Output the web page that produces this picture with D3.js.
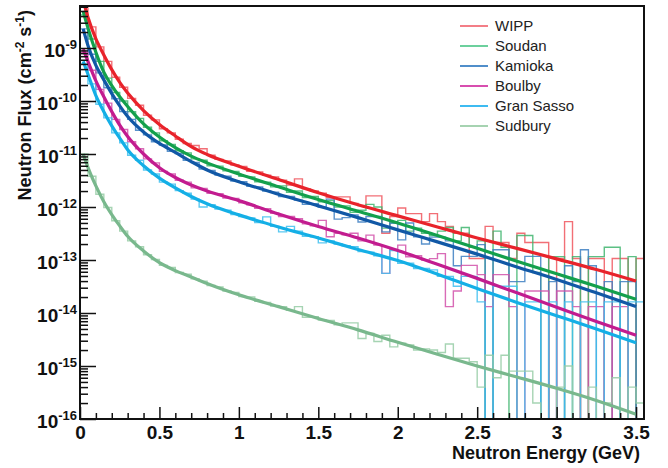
<!DOCTYPE html>
<html lang="en">
<head>
<meta charset="UTF-8">
<title>Neutron flux vs neutron energy</title>
<script src="https://d3js.org/d3.v7.min.js"></script>
<style>
  body { margin: 0; background: #fff; }
  text { font-family: "Liberation Sans", Arial, Helvetica, sans-serif; }
  .hist { fill: none; stroke-width: 1.4; stroke-opacity: 0.85; }
  .fit { fill: none; stroke-width: 3.2; }
  .tick line { stroke: #111; stroke-width: 1.5; }
</style>
</head>
<body>
<svg width="668" height="468"></svg>

<script>
    const siteNames = ["WIPP", "Soudan", "Kamioka", "Boulby", "Gran Sasso", "Sudbury"];

    // histogram binning: 71 bins of 0.05 GeV starting at 0
    const binWidth = 0.05;

    // energies (GeV) where the fitted curves were read
    const fitEnergy = [0.02, 0.05, 0.1, 0.15, 0.2, 0.25, 0.3, 0.4, 0.5, 0.6, 0.7, 0.8,
                       1.0, 1.25, 1.5, 1.75, 2.0, 2.25, 2.5, 2.75, 3.0, 3.25, 3.5];

    // fitted flux, cm^-2 s^-1
    const wippFit     = [7.9e-9, 3.8e-9, 1.48e-9, 7.4e-10, 3.9e-10, 2.24e-10, 1.41e-10, 6.6e-11, 3.6e-11, 2.19e-11, 1.38e-11, 9.8e-12,
                         5.9e-12, 3.3e-12, 1.86e-12, 1.10e-12, 6.8e-13, 4.2e-13, 2.6e-13, 1.66e-13, 1.05e-13, 6.6e-14, 4.0e-14];
    const soudanFit   = [5.0e-9, 2.4e-9, 8.3e-10, 3.5e-10, 1.95e-10, 1.20e-10, 7.9e-11, 3.7e-11, 2.09e-11, 1.32e-11, 9.1e-12, 6.8e-12,
                         4.2e-12, 2.4e-12, 1.38e-12, 8.3e-13, 5.0e-13, 2.9e-13, 1.66e-13, 9.5e-14, 5.5e-14, 3.2e-14, 1.82e-14];
    const kamiokaFit  = [2.3e-9, 1.12e-9, 4.7e-10, 2.5e-10, 1.38e-10, 8.1e-11, 5.1e-11, 2.6e-11, 1.58e-11, 1.07e-11, 7.2e-12, 5.0e-12,
                         3.0e-12, 1.74e-12, 1.05e-12, 6.3e-13, 3.7e-13, 2.2e-13, 1.29e-13, 7.4e-14, 4.3e-14, 2.4e-14, 1.32e-14];
    const boulbyFit   = [9.5e-10, 5.6e-10, 2.4e-10, 1.20e-10, 6.3e-11, 3.5e-11, 2.14e-11, 1.0e-11, 5.5e-12, 3.6e-12, 2.6e-12, 2.0e-12,
                         1.32e-12, 7.4e-13, 4.3e-13, 2.6e-13, 1.51e-13, 8.3e-14, 4.5e-14, 2.4e-14, 1.29e-14, 6.9e-15, 3.8e-15];
    const granSassoFit = [5.6e-10, 3.2e-10, 1.26e-10, 6.3e-11, 3.4e-11, 2.0e-11, 1.20e-11, 6.0e-12, 3.5e-12, 2.3e-12, 1.58e-12, 1.15e-12,
                         7.1e-13, 4.2e-13, 2.6e-13, 1.58e-13, 9.8e-14, 5.4e-14, 2.9e-14, 1.58e-14, 8.9e-15, 5.0e-15, 2.75e-15];
    const sudburyFit  = [1.0e-11, 5.6e-12, 2.5e-12, 1.26e-12, 7.2e-13, 4.4e-13, 2.8e-13, 1.48e-13, 8.9e-14, 6.3e-14, 4.8e-14, 3.6e-14,
                         2.2e-14, 1.32e-14, 7.9e-15, 4.8e-15, 2.8e-15, 1.66e-15, 1.0e-15, 6.2e-16, 3.8e-16, 2.24e-16, 1.23e-16];

    // simulated flux per 0.05 GeV bin (0 = empty bin)
    const wippHist = [
        7.9e-9, 2.5e-9, 1.05e-9, 5.6e-10, 2.8e-10, 1.82e-10, 1.12e-10, 8.3e-11, 5.4e-11, 4.4e-11,
        3.0e-11, 2.5e-11, 1.9e-11, 1.58e-11, 1.45e-11, 1.26e-11, 9.5e-12, 7.9e-12, 7.4e-12, 6.2e-12,
        5.8e-12, 4.7e-12, 4.6e-12, 4.0e-12, 3.7e-12, 3.2e-12, 2.6e-12, 3.4e-12, 2.2e-12, 2.0e-12,
        1.82e-12, 1.51e-12, 1.55e-12, 1.55e-12, 1.17e-12, 1.07e-12, 1.62e-12, 1.62e-12, 3.2e-13, 6.6e-13,
        9.6e-13, 7.5e-13, 7.5e-13, 5.3e-13, 7.5e-13, 5.3e-13, 4.3e-13, 3.2e-13, 3.2e-13, 1.07e-13,
        1.07e-13, 4.3e-13, 2.14e-13, 2.14e-13, 1.07e-13, 3.2e-13, 2.14e-13, 2.14e-13, 2.14e-13, 0,
        1.07e-13, 5.3e-13, 1.07e-13, 0, 1.07e-13, 1.07e-13, 0, 1.07e-13, 1.07e-13, 0,
        1.07e-13];
    const soudanHist = [
        4.2e-9, 1.48e-9, 5.6e-10, 2.7e-10, 1.45e-10, 1.0e-10, 6.3e-11, 4.7e-11, 3.2e-11, 2.5e-11,
        1.78e-11, 1.51e-11, 1.15e-11, 1.05e-11, 8.1e-12, 7.6e-12, 6.0e-12, 5.9e-12, 4.8e-12, 4.7e-12,
        3.8e-12, 3.7e-12, 3.0e-12, 2.95e-12, 2.4e-12, 2.5e-12, 1.9e-12, 2.0e-12, 1.51e-12, 1.58e-12,
        1.26e-12, 1.32e-12, 1.0e-12, 1.05e-12, 7.9e-13, 8.7e-13, 1.12e-12, 1.0e-12, 4.0e-13, 5.0e-13,
        5.6e-13, 3.5e-13, 4.0e-13, 3.2e-13, 2.9e-13, 3.5e-13, 4.1e-13, 2.3e-13, 4.1e-13, 1.74e-13,
        2.3e-13, 0, 3.5e-13, 1.74e-13, 0, 2.9e-13, 2.9e-13, 5.8e-14, 0, 1.16e-13,
        1.16e-13, 0, 1.16e-13, 0, 1.16e-13, 1.16e-13, 1.74e-13, 1.74e-13, 0, 1.16e-13,
        0];
    const kamiokaHist = [
        2.3e-9, 7.6e-10, 3.4e-10, 1.78e-10, 1.10e-10, 6.3e-11, 4.5e-11, 2.8e-11, 2.3e-11, 1.70e-11,
        1.48e-11, 1.12e-11, 1.02e-11, 7.6e-12, 6.9e-12, 5.2e-12, 4.9e-12, 4.0e-12, 3.8e-12, 3.1e-12,
        3.0e-12, 2.45e-12, 2.4e-12, 2.0e-12, 1.91e-12, 1.58e-12, 1.58e-12, 1.35e-12, 1.12e-12, 1.15e-12,
        1.0e-12, 1.41e-12, 5.9e-13, 6.3e-13, 7.1e-13, 5.2e-13, 6.6e-13, 6.6e-13, 3.4e-13, 5.0e-13,
        2.4e-13, 5.0e-13, 2.75e-13, 2.0e-13, 2.7e-13, 2.7e-13, 2.3e-13, 7.8e-14, 1.17e-13, 1.17e-13,
        1.95e-13, 0, 1.56e-13, 1.56e-13, 3.9e-14, 3.9e-14, 1.17e-13, 1.17e-13, 0, 3.9e-14,
        0, 7.8e-14, 3.9e-14, 1.56e-13, 7.8e-14, 0, 3.9e-14, 0, 3.9e-14, 3.9e-14,
        0];
    const boulbyHist = [
        8.3e-10, 3.8e-10, 1.66e-10, 9.1e-11, 4.5e-11, 2.9e-11, 1.70e-11, 1.26e-11, 8.1e-12, 6.8e-12,
        4.7e-12, 4.2e-12, 3.2e-12, 2.95e-12, 2.3e-12, 2.24e-12, 1.82e-12, 1.78e-12, 1.48e-12, 1.45e-12,
        1.20e-12, 1.10e-12, 9.5e-13, 9.3e-13, 7.6e-13, 6.6e-13, 6.6e-13, 6.0e-13, 4.8e-13, 4.4e-13,
        5.6e-13, 2.75e-13, 3.2e-13, 3.0e-13, 3.2e-13, 2.3e-13, 2.95e-13, 1.91e-13, 5.6e-14, 1.58e-13,
        1.91e-13, 1.15e-13, 1.20e-13, 1.0e-13, 1.06e-13, 1.32e-13, 1.32e-14, 2.6e-14, 7.9e-14, 7.9e-14,
        5.3e-14, 1.32e-14, 5.3e-14, 5.3e-14, 1.32e-14, 0, 2.6e-14, 2.6e-14, 2.6e-14, 0,
        2.6e-14, 2.6e-14, 1.32e-14, 0, 1.32e-14, 1.32e-14, 0, 1.32e-14, 1.32e-14, 0,
        0];
    const granSassoHist = [
        5.0e-10, 2.1e-10, 8.7e-11, 4.8e-11, 2.5e-11, 1.62e-11, 9.5e-12, 7.6e-12, 5.0e-12, 4.2e-12,
        2.95e-12, 2.7e-12, 2.04e-12, 1.82e-12, 1.41e-12, 1.0e-12, 1.10e-12, 9.1e-13, 8.7e-13, 7.2e-13,
        6.6e-13, 6.2e-13, 5.1e-13, 6.5e-13, 4.3e-13, 3.4e-13, 4.3e-13, 3.5e-13, 2.8e-13, 2.75e-13,
        2.1e-13, 2.3e-13, 2.0e-13, 1.86e-13, 1.78e-13, 1.45e-13, 1.41e-13, 1.20e-13, 5.6e-14, 1.51e-13,
        8.7e-14, 8.7e-14, 6.9e-14, 6.9e-14, 6.5e-14, 4.9e-14, 4.9e-14, 3.2e-14, 4.9e-14, 4.9e-14,
        1.62e-14, 0, 3.2e-14, 3.2e-14, 3.2e-14, 0, 1.62e-14, 1.62e-14, 0, 1.62e-14,
        0, 1.62e-14, 0, 1.62e-14, 1.62e-14, 0, 1.62e-14, 1.62e-14, 0, 1.62e-14,
        1.62e-14];
    const sudburyHist = [
        1.0e-11, 3.8e-12, 1.74e-12, 9.8e-13, 5.5e-13, 3.5e-13, 2.3e-13, 1.78e-13, 1.26e-13, 1.02e-13,
        7.9e-14, 7.2e-14, 5.8e-14, 5.4e-14, 4.4e-14, 4.0e-14, 3.3e-14, 3.1e-14, 2.6e-14, 2.45e-14,
        2.04e-14, 2.0e-14, 1.66e-14, 1.58e-14, 1.35e-14, 1.32e-14, 1.12e-14, 1.32e-14, 8.3e-15, 8.5e-15,
        7.4e-15, 7.2e-15, 6.0e-15, 6.5e-15, 6.5e-15, 3.3e-15, 4.1e-15, 2.9e-15, 3.8e-15, 2.3e-15,
        2.7e-15, 2.5e-15, 2.0e-15, 2.1e-15, 2.0e-15, 1.8e-15, 2.6e-15, 1.4e-15, 1.4e-15, 1.2e-15,
        4.0e-16, 1.6e-15, 6.0e-16, 1.6e-15, 8.0e-16, 8.0e-16, 8.0e-16, 2.0e-16, 0, 0,
        4.0e-16, 1.0e-15, 0, 0, 4.0e-16, 0, 2.0e-16, 6.0e-16, 0, 4.0e-16,
        2.0e-16];

    const xMajorTicks = [0, 0.5, 1, 1.5, 2, 2.5, 3, 3.5];
    const decadeExponents = [-16, -15, -14, -13, -12, -11, -10, -9];

    // styling, kept apart from the values
    const fitColors  = ["#e8232b", "#13a04c", "#1158a6", "#c21c8f", "#14afe6", "#79b88d"];
    const histColors = ["#f0565e", "#3fb56e", "#3d7fc2", "#d251aa", "#3fc0ef", "#97cca6"];
    const legendColors = ["#f2707a", "#5ccb92", "#3d82c4", "#d43aa6", "#27b4f0", "#9ccfa9"];

    const series = siteNames.map((name, i) => ({
        name: name,
        fit: [wippFit, soudanFit, kamiokaFit, boulbyFit, granSassoFit, sudburyFit][i],
        hist: [wippHist, soudanHist, kamiokaHist, boulbyHist, granSassoHist, sudburyHist][i],
        fitColor: fitColors[i],
        histColor: histColors[i],
        legendColor: legendColors[i]
    }));

    const svg = d3.select("svg");
    const frameLeft = 80, frameRight = 644, frameTop = 6, frameBottom = 419;

    const x = d3.scaleLinear().domain([0, 3.55]).range([frameLeft, frameRight]);
    const y = d3.scaleLog().domain([1e-16, 6.2e-9]).range([frameBottom, frameTop]);

    svg.append("defs").append("clipPath").attr("id", "plot")
       .append("rect").attr("x", frameLeft).attr("y", frameTop)
         .attr("width", frameRight - frameLeft).attr("height", frameBottom - frameTop);

    const plot = svg.append("g").attr("clip-path", "url(#plot)");

    function histPath(vals) {
        let p = "";
        vals.forEach(function(v, i) {
            const x0 = x(i * binWidth), x1 = x((i + 1) * binWidth);
            const yy = v > 0 ? y(v) : frameBottom;
            p += (i === 0 ? "M" + x0 + "," + yy : "V" + yy) + "H" + x1;
        });
        return p + "V" + frameBottom;
    }

    plot.selectAll("path.hist")
        .data(series)
        .join("path").attr("class", "hist")
          .attr("d", d => histPath(d.hist))
          .attr("stroke", d => d.histColor);

    const fitLine = d3.line()
        .x((d, i) => x(fitEnergy[i]))
        .y(d => y(d))
        .curve(d3.curveMonotoneX);

    plot.selectAll("path.fit")
        .data(series.slice().reverse())
        .join("path").attr("class", "fit")
          .attr("d", d => fitLine(d.fit))
          .attr("stroke", d => d.fitColor);

    // x axis: major every 0.5, minor every 0.1
    const xMinorTicks = d3.range(0, 36).map(i => i / 10).filter(v => !xMajorTicks.includes(v));
    svg.append("g").attr("transform", "translate(0," + frameBottom + ")")
       .call(d3.axisBottom(x).tickValues(xMinorTicks).tickSize(-6).tickFormat(""))
       .call(g => g.select(".domain").remove());
    const xAxis = svg.append("g").attr("transform", "translate(0," + frameBottom + ")")
       .call(d3.axisBottom(x).tickValues(xMajorTicks).tickSize(-12).tickPadding(7)
               .tickFormat(d => d3.format("~g")(d)))
       .call(g => g.select(".domain").remove());
    xAxis.selectAll("text")
         .attr("font-size", 19).attr("font-weight", "bold").attr("fill", "#111")
         .style("font-family", "'Liberation Sans', Arial, sans-serif");

    // y axis: decades with 2..9 minor ticks
    const yMinorTicks = [];
    decadeExponents.forEach(e => {
        for (let m = 2; m <= 9; m++) {
            const v = m * Math.pow(10, e);
            if (v < y.domain()[1]) yMinorTicks.push(v);
        }
    });
    svg.append("g").attr("transform", "translate(" + frameLeft + ",0)")
       .call(d3.axisLeft(y).tickValues(yMinorTicks).tickSize(-8).tickFormat(""))
       .call(g => g.select(".domain").remove());
    svg.append("g").attr("transform", "translate(" + frameLeft + ",0)")
       .call(d3.axisLeft(y).tickValues(decadeExponents.map(e => Math.pow(10, e))).tickSize(-16).tickFormat(""))
       .call(g => g.select(".domain").remove());

    const yLabels = svg.append("g")
        .selectAll("text")
        .data(decadeExponents)
        .join("text")
          .attr("x", frameLeft - 3)
          .attr("y", e => y(Math.pow(10, e)) + 9)
          .attr("text-anchor", "end")
          .attr("font-weight", "bold")
          .attr("fill", "#111");
    yLabels.append("tspan").attr("font-size", 19).text("10");
    yLabels.append("tspan").attr("font-size", 13).attr("dy", -8).text(e => e);

    // frame
    svg.append("rect")
       .attr("x", frameLeft).attr("y", frameTop)
       .attr("width", frameRight - frameLeft).attr("height", frameBottom - frameTop)
       .attr("fill", "none").attr("stroke", "#111").attr("stroke-width", 2);

    // axis titles
    svg.append("text")
       .attr("x", 640).attr("y", 459)
       .attr("text-anchor", "end")
       .attr("font-size", 18).attr("font-weight", "bold").attr("fill", "#111")
       .text("Neutron Energy (GeV)");

    const yTitle = svg.append("text")
       .attr("transform", "translate(31,10) rotate(-90)")
       .attr("text-anchor", "end")
       .attr("font-size", 18).attr("font-weight", "bold").attr("fill", "#111");
    yTitle.append("tspan").text("Neutron Flux (cm");
    yTitle.append("tspan").attr("font-size", 12).attr("dy", -7).text("-2");
    yTitle.append("tspan").attr("dy", 7).text(" s");
    yTitle.append("tspan").attr("font-size", 12).attr("dy", -7).text("-1");
    yTitle.append("tspan").attr("dy", 7).text(")");

    // legend
    const legendRows = [26, 46, 66, 86, 106, 126];
    const legend = svg.append("g").selectAll("g")
        .data(series)
        .join("g")
          .attr("transform", (d, i) => "translate(460," + legendRows[i] + ")");
    legend.append("line")
          .attr("x1", 0).attr("x2", 28)
          .attr("stroke", d => d.legendColor).attr("stroke-width", 1.8);
    legend.append("text")
          .attr("x", 35).attr("dy", "0.36em")
          .attr("font-size", 15).attr("fill", "#222")
          .text(d => d.name);
</script>
</body>
</html>
